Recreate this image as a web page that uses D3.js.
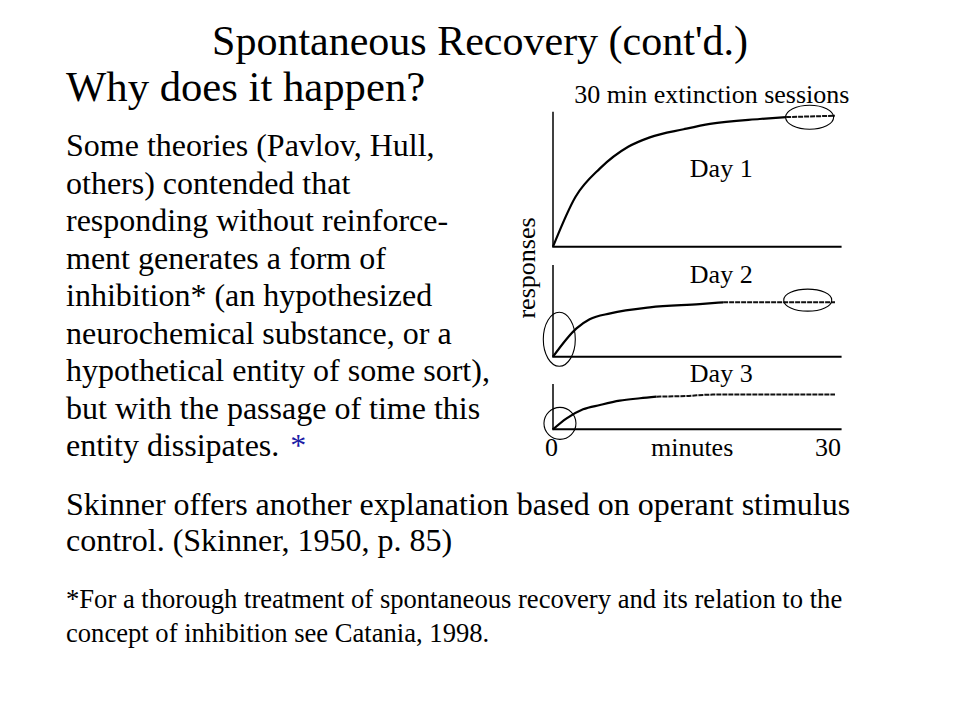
<!DOCTYPE html>
<html>
<head>
<meta charset="utf-8">
<script src="https://cdn.jsdelivr.net/npm/d3@7"></script>
<style>
  html, body { margin: 0; padding: 0; background: #fff; }
  svg { display: block; }
  text { font-family: "Liberation Serif", "Times New Roman", serif; fill: #000; }
</style>
</head>
<body>
<div id="slide"></div>
<script>
// ---- data ----
const titleText = "Spontaneous Recovery (cont'd.)";
const questionText = "Why does it happen?";
const bodyLines = [
  "Some theories (Pavlov, Hull,",
  "others) contended that",
  "responding without reinforce-",
  "ment generates a form of",
  "inhibition* (an hypothesized",
  "neurochemical substance, or a",
  "hypothetical entity of some sort),",
  "but with the passage of time this",
  "entity dissipates. ",
];
const skinnerLines = [
  "Skinner offers another explanation based on operant stimulus",
  "control. (Skinner, 1950, p. 85)",
];
const footnoteLines = [
  "*For a thorough treatment of spontaneous recovery and its relation to the",
  "concept of inhibition see Catania, 1998.",
];

const chartTitle = "30 min extinction sessions";
const xLabel = "minutes";
const yLabel = "responses";
const xTickLabels = ["0", "30"];
const dayLabels = ["Day 1", "Day 2", "Day 3"];

// cumulative responses per extinction session
const minutesDay1 = [0, 2.4, 5, 8, 10.3, 13.9, 16.7, 22, 24.8, 30];
const responsesDay1 = [0, 37, 58, 74, 81, 87, 91, 94.6, 96, 97];
const minutesDay2 = [0, 2.5, 3.9, 6.1, 10.3, 15.6, 18.1, 30];
const responsesDay2 = [0, 21, 27.7, 32.1, 36.6, 39, 40.3, 40.3];
const minutesDay3 = [0, 1.45, 3.2, 5, 7.1, 9.25, 11, 14.2, 17, 30];
const responsesDay3 = [0, 8.1, 14.8, 18, 21.2, 23, 24.2, 24.7, 25.7, 25.7];
// minute from which each record runs flat (drawn dotted)
const flatFrom = [24.8, 18.1, 11];
// top of each panel's response axis
const axisTops = [100, 68, 33.5];

// circled regions: panel index, minute, responses
const markPanel = [0, 1, 1, 2];
const markMinute = [27.3, 0.67, 27.1, 0.74];
const markResponse = [95.9, 12.9, 41.9, 4.4];

class RecoverySlide {
  constructor(el) {
    this.el = el;
    this.width = 960;
    this.height = 720;
    this.init();
  }

  init() {
    this.setup();
    this.scaffold();
    this.renderText();
    this.renderChart();
  }

  setup() {
    this.x = d3.scaleLinear().domain([0, 30]).range([553, 835]);
    this.xEnd = 30.7;
    // three stacked panels share one response scale
    this.baselines = [246.7, 356.7, 429.3];
    this.panelPx = 135;
    this.ys = this.baselines.map((b) =>
      d3.scaleLinear().domain([0, 100]).range([b, b - this.panelPx])
    );
    this.series = [
      d3.zip(minutesDay1, responsesDay1),
      d3.zip(minutesDay2, responsesDay2),
      d3.zip(minutesDay3, responsesDay3),
    ];
    this.markRx = [24, 16, 24, 16];
    this.markRy = [12, 27, 11, 16];
  }

  scaffold() {
    this.svg = d3
      .select(this.el)
      .append("svg")
      .attr("width", this.width)
      .attr("height", this.height)
      .attr("viewBox", [0, 0, this.width, this.height]);
    this.svg
      .append("rect")
      .attr("width", this.width)
      .attr("height", this.height)
      .attr("fill", "#fff");
    this.gText = this.svg.append("g").attr("class", "text-g");
    this.gChart = this.svg.append("g").attr("class", "chart-g");
  }

  renderText() {
    const g = this.gText;

    g.append("text")
      .attr("x", 480)
      .attr("y", 55)
      .attr("text-anchor", "middle")
      .attr("font-size", 42)
      .text(titleText);

    g.append("text")
      .attr("x", 66)
      .attr("y", 101)
      .attr("font-size", 42.7)
      .text(questionText);

    const body = g
      .selectAll(".body-line")
      .data(bodyLines)
      .join("text")
      .attr("class", "body-line")
      .attr("x", 66)
      .attr("y", (d, i) => 156 + i * 37.5)
      .attr("font-size", 32)
      .attr("xml:space", "preserve")
      .text((d) => d);

    body
      .filter((d, i) => i === bodyLines.length - 1)
      .append("tspan")
      .attr("dx", 3)
      .style("fill", "#1c1ca6")
      .text("*");

    g.selectAll(".skinner-line")
      .data(skinnerLines)
      .join("text")
      .attr("class", "skinner-line")
      .attr("x", 66)
      .attr("y", (d, i) => 515 + i * 36)
      .attr("font-size", 32)
      .text((d) => d);

    g.selectAll(".foot-line")
      .data(footnoteLines)
      .join("text")
      .attr("class", "foot-line")
      .attr("x", 66)
      .attr("y", (d, i) => 608 + i * 33.5)
      .attr("font-size", 26.6)
      .text((d) => d);
  }

  renderChart() {
    const g = this.gChart;
    const x = this.x;

    const line = (y) =>
      d3
        .line()
        .x((d) => x(d[0]))
        .y((d) => y(d[1]))
        .curve(d3.curveMonotoneX);

    this.ys.forEach((y, i) => {
      const panel = g.append("g").attr("class", `panel-${i + 1}`);

      // axes
      panel
        .append("line")
        .attr("x1", x(0))
        .attr("x2", x(0))
        .attr("y1", y(0))
        .attr("y2", y(axisTops[i]))
        .attr("stroke", "#000")
        .attr("stroke-width", 1.5);
      panel
        .append("line")
        .attr("x1", x(0) - 0.75)
        .attr("x2", x(this.xEnd))
        .attr("y1", y(0))
        .attr("y2", y(0))
        .attr("stroke", "#000")
        .attr("stroke-width", 2);

      // cumulative record: rising part solid, flat tail dotted
      const pts = this.series[i];
      const rising = pts.filter((d) => d[0] <= flatFrom[i]);
      const flat = pts.filter((d) => d[0] >= flatFrom[i]);
      panel
        .append("path")
        .attr("d", line(y)(rising))
        .attr("fill", "none")
        .attr("stroke", "#000")
        .attr("stroke-width", 2.2)
        .attr("stroke-linejoin", "round");
      panel
        .append("path")
        .attr("d", line(y)(flat))
        .attr("fill", "none")
        .attr("stroke", "#111")
        .attr("stroke-width", 2)
        .attr("stroke-dasharray", "5,1");

      panel
        .append("text")
        .attr("x", x(17.9))
        .attr("y", [177, 282.7, 382][i])
        .attr("text-anchor", "middle")
        .attr("font-size", 26)
        .text(dayLabels[i]);
    });

    // circled regions
    g.selectAll(".mark")
      .data(markPanel)
      .join("ellipse")
      .attr("class", "mark")
      .attr("cx", (d, i) => x(markMinute[i]))
      .attr("cy", (d, i) => this.ys[d](markResponse[i]))
      .attr("rx", (d, i) => this.markRx[i])
      .attr("ry", (d, i) => this.markRy[i])
      .attr("fill", "none")
      .attr("stroke", "#000")
      .attr("stroke-width", 1.1);

    g.append("text")
      .attr("x", x(16.9))
      .attr("y", 103)
      .attr("text-anchor", "middle")
      .attr("font-size", 26)
      .text(chartTitle);

    g.append("text")
      .attr("transform", "translate(535,268) rotate(-90)")
      .attr("text-anchor", "middle")
      .attr("font-size", 26)
      .text(yLabel);

    g.append("text")
      .attr("x", x(14.8))
      .attr("y", 456)
      .attr("text-anchor", "middle")
      .attr("font-size", 26)
      .text(xLabel);

    g.selectAll(".x-tick")
      .data(xTickLabels)
      .join("text")
      .attr("class", "x-tick")
      .attr("x", (d) => (+d === 0 ? x(0) - 1.5 : x(+d) - 7))
      .attr("y", 456)
      .attr("text-anchor", "middle")
      .attr("font-size", 26)
      .text((d) => d);
  }
}

new RecoverySlide(document.getElementById("slide"));
</script>
</body>
</html>
